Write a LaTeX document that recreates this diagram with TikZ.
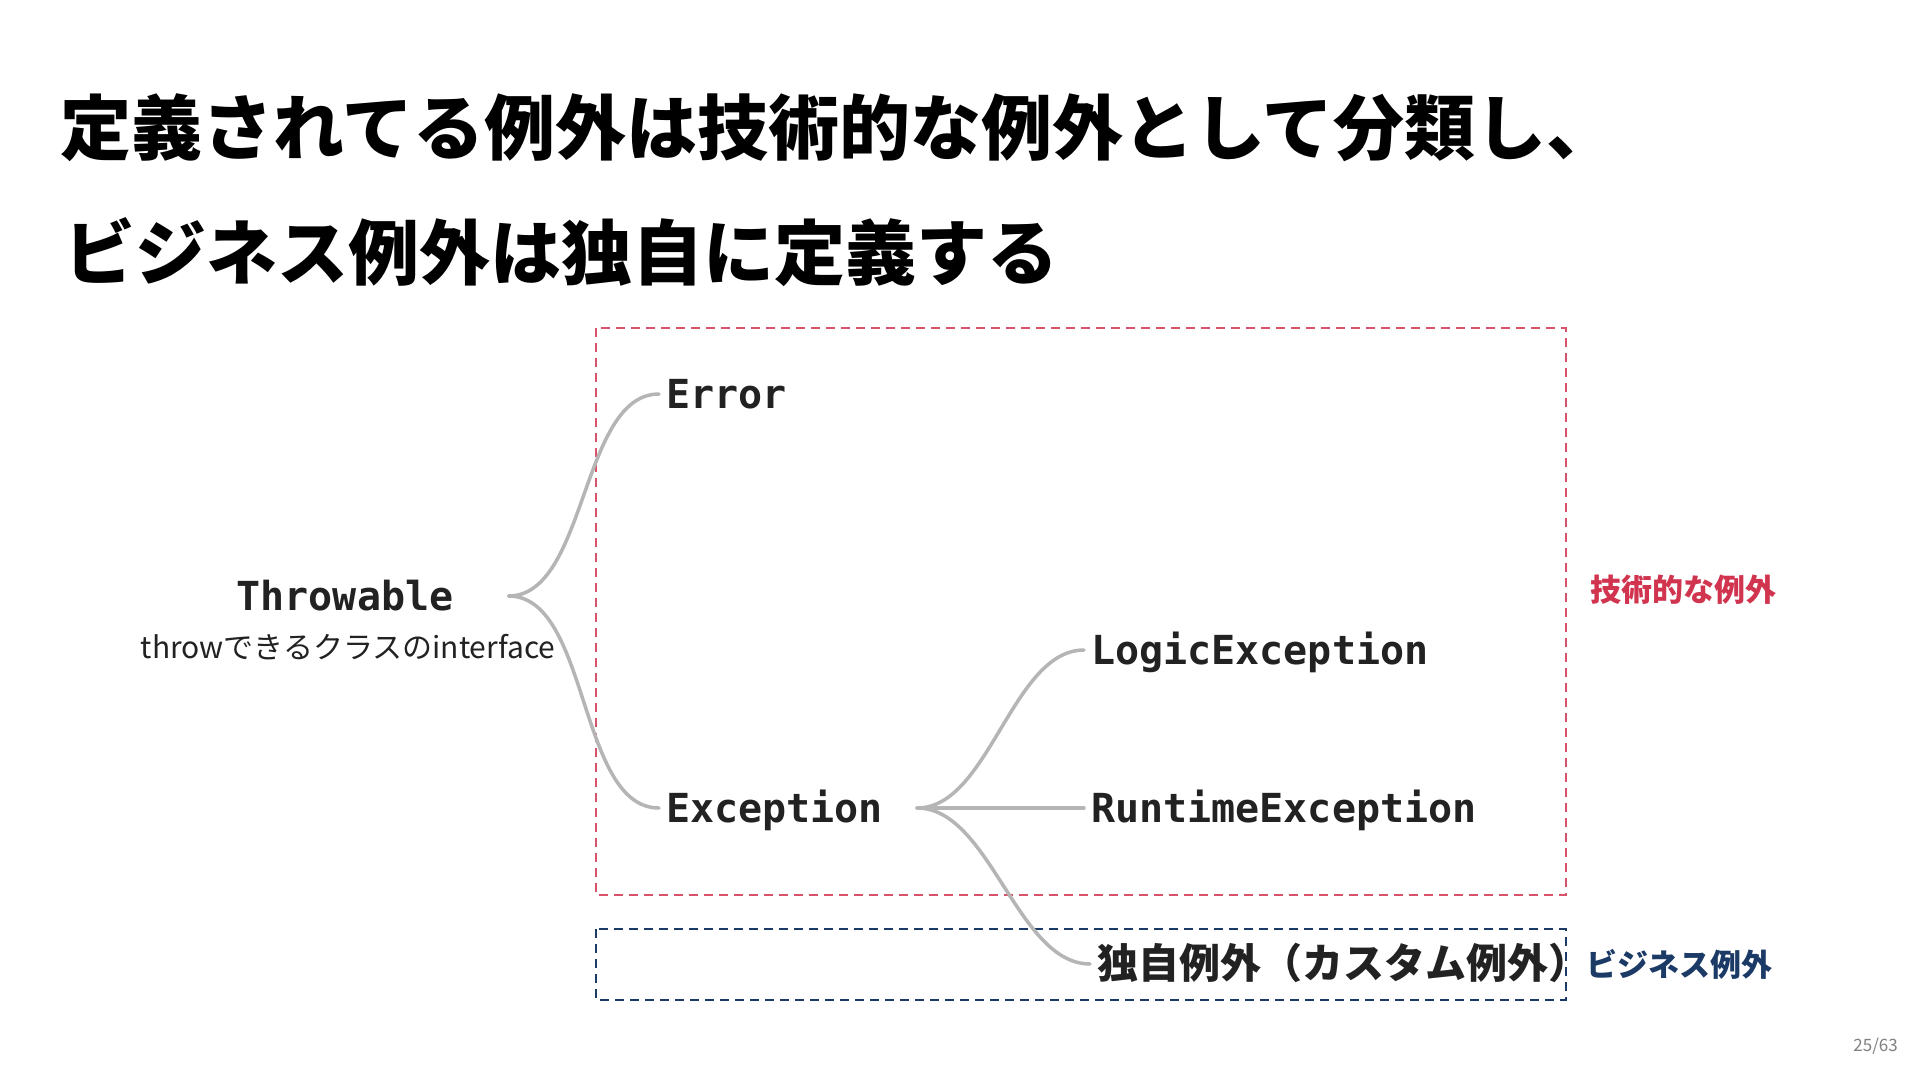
\documentclass[tikz,border=0pt]{standalone}
\usepackage{fontspec}
\newfontfamily\jpfont{Noto Sans CJK JP}
\newfontfamily\headfont{Noto Sans CJK JP Black}
\newfontfamily\codefont{DejaVu Sans Mono}
\usetikzlibrary{positioning}
\definecolor{ink}{HTML}{222222}
\definecolor{techred}{HTML}{D1344F}
\definecolor{biznavy}{HTML}{1B3A66}
\definecolor{linkgray}{HTML}{B5B5B5}

\begin{document}
\begin{tikzpicture}[x=1pt, y=-1pt,
  headline/.style={anchor=base west, inner sep=0pt, font=\headfont\fontsize{71}{85}\selectfont},
  cls/.style={anchor=west, inner xsep=7pt, inner ysep=0pt, text height=29pt, text depth=0pt,
    text=ink, font=\codefont\bfseries\fontsize{40}{48}\selectfont},
  jpcls/.style={cls, font=\jpfont\bfseries\fontsize{41}{49}\selectfont},
  note/.style={anchor=base, inner sep=0pt, text=ink, font=\jpfont\fontsize{30}{36}\selectfont},
  area/.style={line width=2pt, dash pattern=on 9pt off 6pt},
  tag/.style={anchor=base west, inner sep=0pt, font=\jpfont\bfseries\fontsize{31}{37}\selectfont},
  link/.style={draw=linkgray, line width=3.5pt, line cap=round, out=0, in=180, looseness=0.8},
]
  \useasboundingbox[fill=white] (0,0) rectangle (1920,1080);

  % title
  \node[headline] (head1) at (60,154) {定義されてる例外は技術的な例外として分類し、};
  \node[headline] (head2) at (64,279) {ビジネス例外は独自に定義する};

  % areas
  \draw[area, draw=techred!85] (596,328) rectangle (1566,895);
  \draw[area, draw=biznavy] (596,929) rectangle (1566,1000);
  \node[tag, text=techred] (techtag) at (1590,601) {技術的な例外};
  \node[tag, text=biznavy] (biztag)  at (1586,976) {ビジネス例外};

  % classes
  \node[cls, anchor=center] (throwable) at (345,596) {Throwable};
  \node[note] (throwdesc) at (348,658) {throwできるクラスのinterface};
  \node[cls] (error)     at (659,394)  {Error};
  \node[cls] (exception) at (659,808)  {Exception};
  \node[cls] (logic)     at (1084,650) {LogicException};
  \node[cls] (runtime)   at (1084,808) {RuntimeException};
  \node[jpcls] (custom)  at (1090,964) {独自例外（カスタム例外）};

  \draw[link] ([xshift=48pt]throwable.east) to (error.west);
  \draw[link] ([xshift=48pt]throwable.east) to (exception.west);
  \draw[link] ([xshift=27pt]exception.east) to (logic.west);
  \draw[link] ([xshift=27pt]exception.east) -- (runtime.west);
  \draw[link] ([xshift=27pt]exception.east) to (custom.west);

  % page
  \node[anchor=base east, inner sep=0pt, text=gray, font=\jpfont\fontsize{17}{20}\selectfont] (page) at (1898,1051) {25/63};
\end{tikzpicture}
\end{document}
